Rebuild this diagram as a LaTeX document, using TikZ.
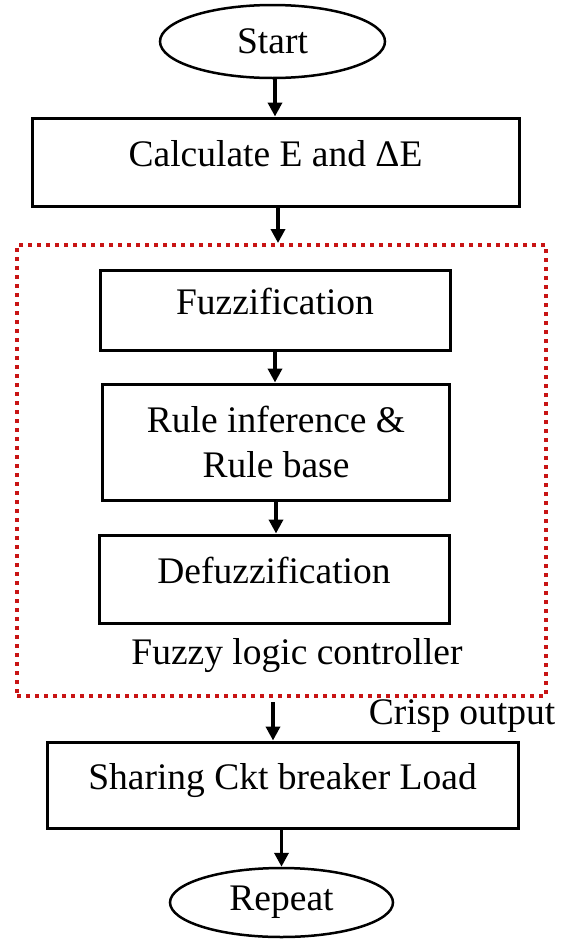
\documentclass[tikz,border=0pt]{standalone}
\usepackage{fontspec}
\setmainfont{Liberation Serif}
\usepackage{tikz}
\usetikzlibrary{shapes,arrows.meta}
\usetikzlibrary{positioning}
\definecolor{flcred}{RGB}{200,20,20}
\tikzset{auto,>={Triangle[length=14pt,width=14pt]}, font=\fontsize{37.5}{45}\selectfont}
\tikzstyle{block} = [draw, fill=white, rectangle, line width=3pt, inner sep=0pt, text centered, align=center]
\tikzstyle{raised} = [text height=25pt, text depth=17pt]
\tikzstyle{terminal} = [draw, fill=white, ellipse, line width=2.5pt, inner sep=0pt]
\tikzstyle{group} = [draw=flcred, rectangle, line width=4pt, dash pattern=on 4pt off 5pt, inner sep=0pt]
\tikzstyle{flow} = [->, line width=3.5pt]

\begin{document}
\begin{tikzpicture}[x=1pt,y=-1pt]
		\useasboundingbox (0,0) rectangle (561,940);
		\node [group, minimum width=529pt, minimum height=451pt] (flc) at (281.5,470.5) {};
		\node [terminal, minimum width=225pt, minimum height=73pt] (start) at (272.5,41.5) {Start};
		\node [block, raised, minimum width=487pt, minimum height=88pt] (calc) at (275.5,162) {Calculate E and ΔE};
		\node [block, raised, minimum width=350pt, minimum height=80pt] (fuzz) at (275,310) {Fuzzification};
		\node [block, minimum width=347pt, minimum height=116pt] (rule) at (276,442) {Rule inference \&\\Rule base};
		\node [block, raised, minimum width=350pt, minimum height=88pt] (defuzz) at (274,579) {Defuzzification};
		\node (flclabel) at (297,656) {Fuzzy logic controller};
		\node (crisp) at (462,716) {Crisp output};
		\node [block, raised, minimum width=471pt, minimum height=86pt] (sharing) at (282.5,785) {Sharing Ckt breaker Load};
		\node [terminal, minimum width=223pt, minimum height=69pt] (repeat) at (281.5,902.5) {Repeat};

		\draw [flow] ([xshift=2.5pt]start.south) -- ([xshift=2.5pt]start.south |- calc.north);
		\draw [flow] ([xshift=2.5pt]calc.south) -- ([xshift=2.5pt]calc.south |- flc.north);
		\draw [flow] (fuzz) -- (fuzz |- rule.north);
		\draw [flow] (rule) -- (rule |- defuzz.north);
		\draw [flow] ([xshift=-8.5pt,yshift=-4pt]flc.south) -- ([xshift=-9.5pt]sharing.north);
		\draw [flow] (repeat |- sharing.south) -- (repeat);
	\end{tikzpicture}
\end{document}
